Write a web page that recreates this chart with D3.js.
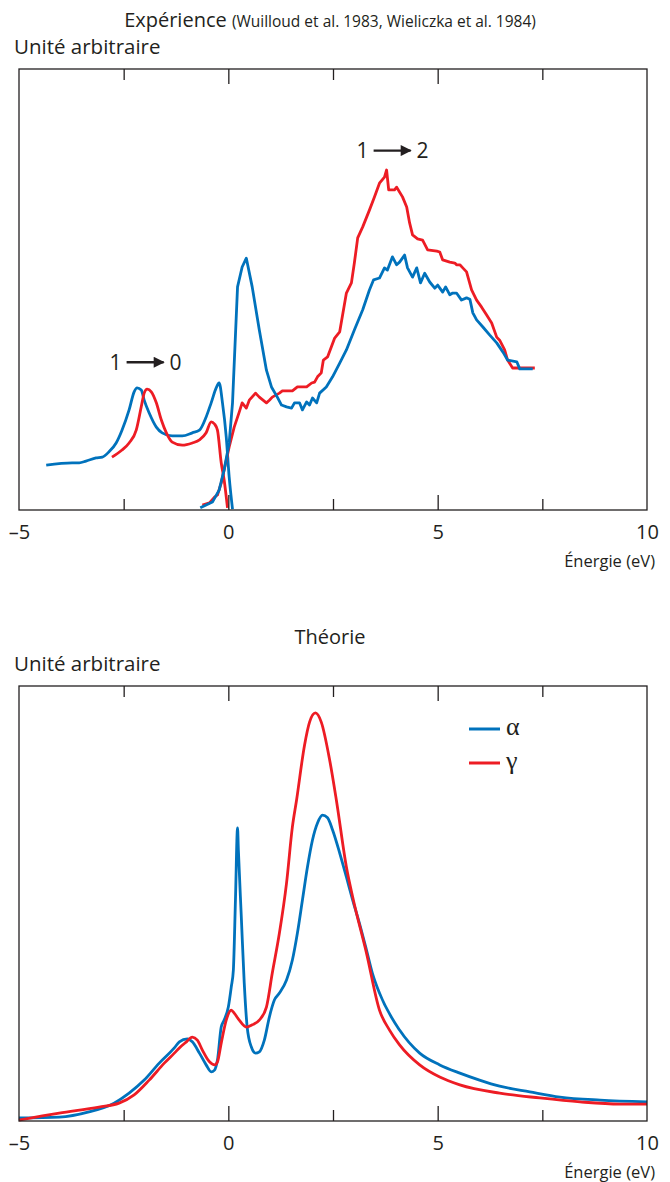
<!DOCTYPE html>
<html lang="fr">
<head>
<meta charset="utf-8">
<script src="https://cdn.jsdelivr.net/npm/d3@7"></script>
<style>
  html, body { margin: 0; padding: 0; background: #fff; }
  svg { display: block; font-family: "Open Sans", "Noto Sans", sans-serif; }
</style>
</head>
<body>
<svg id="chart" width="670" height="1182"></svg>
<script>
// --- data: [energy (eV), intensity (arbitrary, 0-100)] ---

// experiment, alpha, photoemission branch
const expAlphaPES = [
  [-4.35, 10.2], [-3.73, 10.7], [-3.56, 10.7], [-3.40, 11.1], [-3.16, 11.8], [-3.01, 12.0],
  [-2.85, 13.2], [-2.68, 15.2], [-2.54, 18.1], [-2.37, 22.7], [-2.25, 26.8], [-2.18, 27.7],
  [-2.08, 27.2], [-2.01, 24.9], [-1.89, 22.0], [-1.72, 18.8], [-1.58, 17.5], [-1.34, 16.8],
  [-1.10, 16.8], [-0.86, 17.5], [-0.69, 18.1], [-0.53, 21.1], [-0.41, 24.3], [-0.29, 27.7],
  [-0.22, 28.8], [-0.14, 24.3], [-0.05, 16.6], [0.02, 7.5], [0.10, 0.2]
];
// experiment, alpha, inverse photoemission branch
const expAlphaBIS = [
  [-0.67, 0.5], [-0.38, 1.8], [-0.22, 4.5], [-0.10, 9.1], [0.02, 15.2], [0.10, 24.3],
  [0.22, 50.6], [0.33, 55.1], [0.43, 57.1], [0.57, 50.6], [0.74, 40.8], [0.91, 31.7],
  [1.03, 27.9], [1.17, 25.6], [1.27, 23.8], [1.39, 23.4], [1.51, 23.1], [1.58, 24.3],
  [1.70, 24.3], [1.77, 22.7], [1.87, 24.5], [1.94, 23.8], [2.01, 25.4], [2.11, 24.3],
  [2.18, 26.5], [2.34, 27.9], [2.49, 30.2], [2.66, 33.3], [2.82, 36.3], [3.01, 40.8],
  [3.21, 45.4], [3.37, 49.9], [3.47, 52.2], [3.61, 52.6], [3.73, 54.9], [3.80, 54.4],
  [3.92, 57.4], [4.02, 55.6], [4.09, 56.2], [4.21, 57.8], [4.28, 54.9], [4.40, 52.8],
  [4.50, 54.9], [4.59, 51.5], [4.69, 53.7], [4.81, 51.7], [4.93, 50.3], [5.00, 51.0],
  [5.12, 49.4], [5.19, 50.6], [5.29, 48.8], [5.36, 49.2], [5.45, 49.2], [5.57, 47.6],
  [5.69, 48.1], [5.77, 47.8], [5.84, 44.7], [5.93, 43.1], [6.08, 41.5], [6.24, 39.7],
  [6.41, 37.9], [6.56, 35.8], [6.67, 34.0], [6.89, 33.6], [6.96, 32.0], [7.27, 32.0]
];
// experiment, gamma, photoemission branch
const expGammaPES = [
  [-2.78, 12.0], [-2.54, 13.6], [-2.37, 15.2], [-2.20, 18.1], [-2.08, 23.4], [-2.01, 26.5],
  [-1.94, 27.4], [-1.84, 26.8], [-1.72, 24.3], [-1.60, 20.4], [-1.48, 17.5], [-1.34, 15.4],
  [-1.10, 14.7], [-0.86, 15.2], [-0.69, 15.9], [-0.53, 17.5], [-0.41, 20.0], [-0.33, 19.5],
  [-0.26, 18.1], [-0.17, 10.7], [-0.10, 6.8], [-0.02, 0.5]
];
// experiment, gamma, inverse photoemission branch
const expGammaBIS = [
  [-0.62, 1.1], [-0.45, 1.6], [-0.33, 2.9], [-0.26, 3.4], [-0.17, 6.1], [-0.10, 9.1],
  [0.02, 14.3], [0.14, 18.8], [0.26, 22.2], [0.33, 24.3], [0.43, 23.1], [0.50, 24.9],
  [0.65, 26.5], [0.74, 25.6], [0.91, 24.3], [0.98, 24.9], [1.05, 25.6], [1.22, 26.5],
  [1.29, 27.0], [1.53, 27.0], [1.65, 27.9], [1.87, 27.9], [1.99, 28.8], [2.06, 29.0],
  [2.13, 30.2], [2.22, 31.1], [2.27, 34.0], [2.37, 34.7], [2.54, 39.0], [2.66, 40.4],
  [2.82, 49.2], [2.94, 51.5], [3.01, 56.0], [3.09, 61.7], [3.21, 64.2], [3.37, 68.0],
  [3.49, 71.0], [3.61, 74.1], [3.73, 75.5], [3.78, 77.1], [3.83, 72.6], [3.97, 72.6],
  [4.02, 73.2], [4.16, 71.0], [4.26, 68.7], [4.33, 65.1], [4.40, 62.4], [4.52, 61.5],
  [4.64, 61.2], [4.76, 59.0], [4.98, 58.7], [5.05, 58.5], [5.12, 56.7], [5.29, 56.2],
  [5.41, 56.0], [5.45, 55.6], [5.53, 55.6], [5.60, 54.9], [5.69, 54.0], [5.81, 49.9],
  [5.93, 47.6], [6.05, 46.0], [6.17, 44.2], [6.29, 42.4], [6.41, 39.2], [6.48, 38.5],
  [6.60, 36.3], [6.67, 34.0], [6.79, 32.2], [7.32, 32.2]
];

// theory
const theoAlpha = [
  [-5.00, 0.7], [-4.04, 0.9], [-3.33, 2.1], [-2.73, 4.1], [-2.37, 6.4], [-2.01, 9.4],
  [-1.65, 13.3], [-1.29, 16.8], [-1.17, 18.2], [-0.98, 18.9], [-0.86, 18.2], [-0.69, 15.6],
  [-0.53, 12.9], [-0.41, 11.3], [-0.33, 11.7], [-0.26, 14.0], [-0.17, 21.6], [-0.10, 23.2],
  [0.00, 26.2], [0.07, 30.8], [0.12, 34.7], [0.17, 50.8], [0.22, 67.4], [0.24, 62.3],
  [0.31, 46.9], [0.38, 31.7], [0.45, 21.6], [0.55, 17.0], [0.65, 15.6], [0.74, 15.9],
  [0.86, 18.6], [0.98, 23.9], [1.10, 27.8], [1.22, 29.4], [1.39, 32.4], [1.53, 37.0],
  [1.65, 43.2], [1.77, 50.8], [1.89, 58.4], [2.01, 64.6], [2.13, 68.5], [2.25, 70.3],
  [2.37, 69.7], [2.49, 66.9], [2.66, 61.6], [2.82, 56.1], [2.97, 50.8], [3.13, 45.5],
  [3.30, 39.3], [3.44, 34.0], [3.61, 29.4], [4.09, 20.9], [4.57, 15.6], [5.05, 12.9],
  [5.53, 11.0], [6.00, 9.4], [6.48, 8.0], [7.20, 6.7], [7.92, 5.5], [8.88, 4.8], [10.00, 4.4]
];
const theoGamma = [
  [-5.00, 0.2], [-4.04, 1.8], [-3.09, 3.2], [-2.61, 4.1], [-2.25, 6.0], [-1.89, 9.4],
  [-1.53, 13.3], [-1.29, 15.6], [-1.17, 16.8], [-1.00, 18.2], [-0.86, 19.3], [-0.74, 18.6],
  [-0.62, 16.3], [-0.45, 13.6], [-0.33, 12.9], [-0.26, 13.6], [-0.17, 17.9], [-0.05, 23.2],
  [0.07, 25.5], [0.14, 24.8], [0.26, 23.2], [0.43, 21.6], [0.57, 22.1], [0.74, 23.2],
  [0.91, 26.2], [1.05, 34.0], [1.22, 43.2], [1.39, 54.7], [1.53, 67.6], [1.63, 73.8],
  [1.82, 86.4], [1.94, 91.7], [2.08, 93.8], [2.22, 91.7], [2.42, 83.0], [2.58, 73.8],
  [2.82, 58.4], [2.97, 51.5], [3.30, 38.6], [3.61, 25.5], [3.85, 20.9], [4.09, 17.5],
  [4.57, 12.9], [5.05, 10.1], [5.53, 8.3], [6.48, 6.4], [7.44, 5.3], [8.40, 4.4],
  [9.35, 3.9], [10.00, 3.9]
];

const labelTicks = [-5, 0, 5, 10];
const majorTicks = [0, 5];
const minorTicks = [-2.5, 2.5, 7.5];
const legendLabels = ["α", "γ"];

const annotations = [
  { from: "1", to: "0", e: -2.0, v: 33.5 },
  { from: "1", to: "2", e: 3.9, v: 81.5 }
];

// --- drawing ---
const blue = "#0072bc";
const red = "#ed1c24";
const ink = "#231f20";

const svg = d3.select("#chart");

svg.append("defs").append("marker")
  .attr("id", "head")
  .attr("viewBox", "0 0 10 10")
  .attr("refX", 9).attr("refY", 5)
  .attr("markerWidth", 5).attr("markerHeight", 4.6)
  .attr("markerUnits", "strokeWidth")
  .attr("orient", "auto")
  .append("path").attr("d", "M0,0L10,5L0,10Z").attr("fill", ink);

const x = d3.scaleLinear().domain([-5, 10]).range([19, 647]);

function panel(y0, y1, title, series) {
  const y = d3.scaleLinear().domain([0, 100]).range([y1, y0]);
  const g = svg.append("g");

  // title + y label
  g.append("text").attr("x", 14).attr("y", y0 - 15)
    .attr("font-size", 20.5).attr("fill", ink).text("Unité arbitraire");
  title(g.append("text").attr("x", 330).attr("y", y0 - 42)
    .attr("text-anchor", "middle").attr("fill", ink));

  // curves
  for (const s of series) {
    g.append("path")
      .datum(s.data)
      .attr("fill", "none")
      .attr("stroke", s.color)
      .attr("stroke-width", 2.8)
      .attr("stroke-linejoin", "round")
      .attr("d", d3.line().x(d => x(d[0])).y(d => y(d[1])).curve(s.curve || d3.curveLinear));
  }

  // frame
  g.append("rect")
    .attr("x", x(-5)).attr("y", y0)
    .attr("width", x(10) - x(-5)).attr("height", y1 - y0)
    .attr("fill", "none").attr("stroke", ink).attr("stroke-width", 1.3);

  const tickStyle = sel => sel.call(a => a.select(".domain").remove())
    .selectAll(".tick line").attr("stroke", ink).attr("stroke-width", 1.3);

  for (const [vals, len] of [[majorTicks, 15], [minorTicks, 11]]) {
    g.append("g").attr("transform", `translate(0,${y0})`)
      .call(d3.axisBottom(x).tickValues(vals).tickSize(len).tickFormat(""))
      .call(tickStyle);
    g.append("g").attr("transform", `translate(0,${y1})`)
      .call(d3.axisTop(x).tickValues(vals).tickSize(len).tickFormat(""))
      .call(tickStyle);
  }

  // tick labels
  const ax = g.append("g").attr("transform", `translate(0,${y1})`)
    .call(d3.axisBottom(x).tickValues(labelTicks).tickSize(0).tickPadding(0)
      .tickFormat(d => d < 0 ? "–" + Math.abs(d) : String(d)));
  ax.select(".domain").remove();
  ax.attr("font-family", null).attr("font-size", null);
  ax.selectAll(".tick text")
    .attr("y", 29).attr("dy", null)
    .attr("font-size", 20).attr("fill", ink);

  g.append("text").attr("x", 655).attr("y", y1 + 57)
    .attr("text-anchor", "end").attr("font-size", 16.5).attr("fill", ink)
    .text("Énergie (eV)");

  return { g, y };
}

// upper panel: experiment
const upper = panel(69, 510, t => {
  t.append("tspan").attr("font-size", 20).text("Expérience ");
  t.append("tspan").attr("font-size", 15.5).text("(Wuilloud et al. 1983, Wieliczka et al. 1984)");
}, [
  { data: expAlphaPES, color: blue, curve: d3.curveMonotoneX },
  { data: expGammaPES, color: red, curve: d3.curveMonotoneX },
  { data: expGammaBIS, color: red },
  { data: expAlphaBIS, color: blue }
]);

for (const a of annotations) {
  const cx = x(a.e), cy = upper.y(a.v);
  const ag = upper.g.append("g").attr("fill", ink).attr("font-size", 21);
  ag.append("text").attr("x", cx - 29).attr("y", cy + 7.5).attr("text-anchor", "middle").text(a.from);
  ag.append("text").attr("x", cx + 31).attr("y", cy + 7.5).attr("text-anchor", "middle").text(a.to);
  ag.append("line")
    .attr("x1", cx - 18).attr("x2", cx + 19).attr("y1", cy).attr("y2", cy)
    .attr("stroke", ink).attr("stroke-width", 2.4)
    .attr("marker-end", "url(#head)");
}

// lower panel: theory
const lower = panel(686, 1121, t => {
  t.attr("font-size", 20).text("Théorie");
}, [
  { data: theoAlpha, color: blue, curve: d3.curveMonotoneX },
  { data: theoGamma, color: red, curve: d3.curveMonotoneX }
]);

// legend
const leg = lower.g.append("g");
legendLabels.forEach((lab, i) => {
  const ly = 729 + i * 34;
  leg.append("line").attr("x1", 469).attr("x2", 500).attr("y1", ly).attr("y2", ly)
    .attr("stroke", i ? red : blue).attr("stroke-width", 3);
  leg.append("text").attr("x", 506).attr("y", ly + 6)
    .style("font-family", "'Liberation Serif', 'DejaVu Serif', serif")
    .attr("font-size", 26).attr("fill", ink).text(lab);
});
</script>
</body>
</html>
